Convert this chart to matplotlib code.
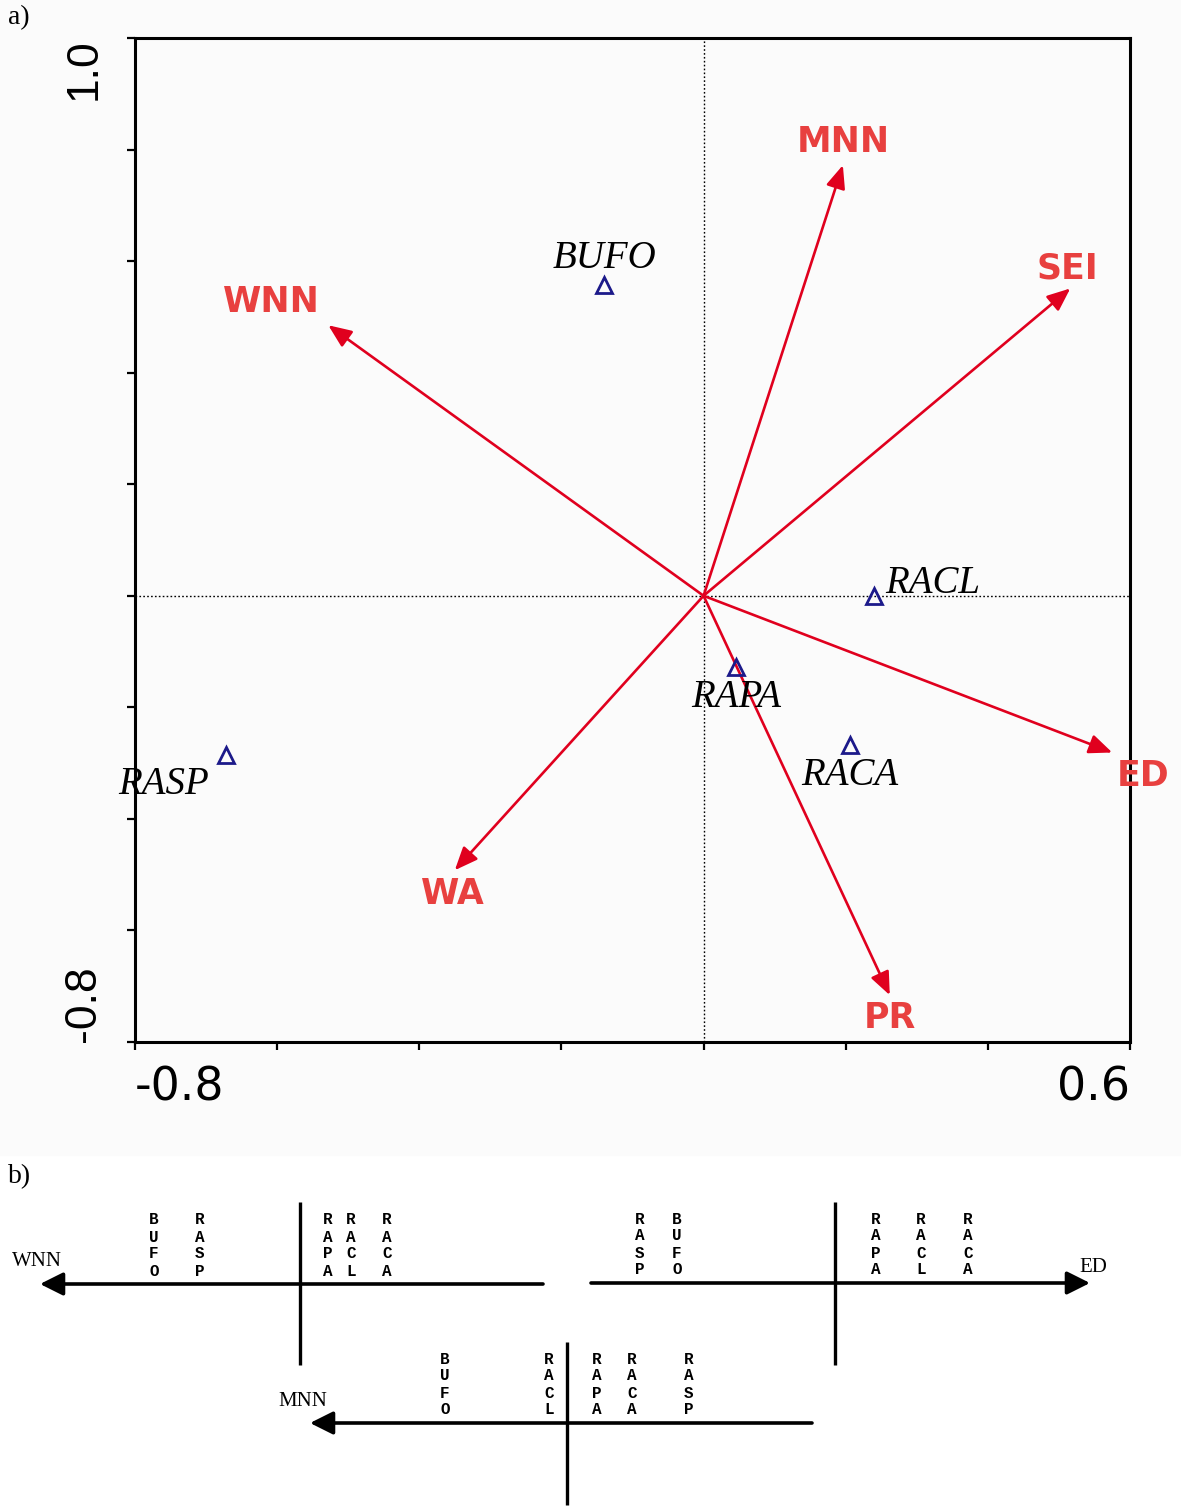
import matplotlib
matplotlib.use("Agg")
import matplotlib.pyplot as plt
from matplotlib.patches import Rectangle

# ---------------- data ----------------
# environmental variables (biplot arrows)
env_names = ["MNN", "SEI", "WNN", "ED", "PR", "WA"]
env_x = [0.196, 0.516, -0.528, 0.575, 0.262, -0.350]
env_y = [0.772, 0.551, 0.485, -0.281, -0.716, -0.492]

# species scores
species = ["BUFO", "RACL", "RAPA", "RACA", "RASP"]
sp_x = [-0.140, 0.240, 0.046, 0.206, -0.672]
sp_y = [0.557, 0.000, -0.128, -0.268, -0.285]

# axis ticks
x_ticks = [-0.8, -0.6, -0.4, -0.2, 0.0, 0.2, 0.4, 0.6]
y_ticks = [-0.8, -0.6, -0.4, -0.2, 0.0, 0.2, 0.4, 0.6, 0.8, 1.0]
x_ticklabels = ["-0.8", "", "", "", "", "", "", "0.6"]
y_ticklabels = ["-0.8", "", "", "", "", "", "", "", "", "1.0"]

# panel b: species order along three gradients, signed position from the
# crossing point (positive = toward the arrow head)
grad_names = ["WNN", "ED", "MNN"]
grad_species = [
    ["BUFO", "RASP", "RAPA", "RACL", "RACA"],
    ["RASP", "BUFO", "RAPA", "RACL", "RACA"],
    ["BUFO", "RACL", "RAPA", "RACA", "RASP"],
]
grad_scores = [
    [146, 100, -28, -51, -87],
    [-195, -158, 41, 86, 133],
    [122, 18, -30, -65, -122],
]

# ---------------- styling ----------------
ARROW_RED = "#e0001e"
TEXT_RED = "#e8403f"
NAVY = "#1c1a8a"

env_label_offsets = {  # points, from arrow tip
    "MNN": (0, 16.6), "SEI": (-2, 14.4), "WNN": (-41, 16.6),
    "ED": (22.3, -16.6), "PR": (0, -16.6), "WA": (-1.4, -17.3),
}
sp_label_offsets = {  # points, from marker
    "BUFO": (0, 19.4, "center"), "RACL": (8, 8.6, "left"),
    "RAPA": (0, -21.6, "center"), "RACA": (0, -21.6, "center"),
    "RASP": (-45, -21.6, "center"),
}

W, H = 1181, 1506
fig = plt.figure(figsize=(W / 100, H / 100), dpi=100)
fig.patch.set_facecolor("white")
fig.patches.append(Rectangle((0, 1 - 1155 / H), 1, 1155 / H,
                             transform=fig.transFigure, color="#fbfbfb",
                             zorder=-10))

# ---------------- panel a ----------------
ax = fig.add_axes([135 / W, 1 - 1042 / H, 995 / W, 1004 / H])
ax.set_facecolor("none")
ax.set_xlim(-0.8, 0.6)
ax.set_ylim(-0.8, 1.0)
for sp in ax.spines.values():
    sp.set_linewidth(2.2)
    sp.set_color("black")

ax.set_xticks(x_ticks)
ax.set_xticklabels(x_ticklabels, fontsize=33, family="DejaVu Sans")
ax.set_yticks(y_ticks)
ax.set_yticklabels(y_ticklabels, fontsize=32, family="Liberation Sans",
                   rotation=90)
ax.tick_params(axis="both", direction="out", length=6, width=1.6)
ax.tick_params(axis="x", pad=11)
ax.tick_params(axis="y", pad=16)
xl = ax.get_xticklabels()
xl[0].set_ha("left")
xl[-1].set_ha("right")
yl = ax.get_yticklabels()
yl[0].set_va("bottom")
yl[-1].set_va("top")

ax.axhline(0, color="black", lw=1.0, ls=(0, (1.2, 1.6)), zorder=1)
ax.axvline(0, color="black", lw=1.0, ls=(0, (1.2, 1.6)), zorder=1)

for name, ex, ey in zip(env_names, env_x, env_y):
    ax.annotate("", xy=(ex, ey), xytext=(0, 0),
                arrowprops=dict(arrowstyle="-|>,head_length=1.0,head_width=0.42",
                                mutation_scale=14, color=ARROW_RED, lw=1.9,
                                shrinkA=0, shrinkB=0), zorder=3)
    dx, dy = env_label_offsets[name]
    ax.annotate(name, xy=(ex, ey), xytext=(dx, dy), textcoords="offset points",
                ha="center", va="center", fontsize=25, fontweight="bold",
                family="DejaVu Sans", color=TEXT_RED, zorder=4)

ax.plot(sp_x, sp_y, ls="none", marker="^", ms=11, mfc="none", mec=NAVY,
        mew=2.0, zorder=5)
for name, sx, sy in zip(species, sp_x, sp_y):
    dx, dy, ha = sp_label_offsets[name]
    ax.annotate(name, xy=(sx, sy), xytext=(dx, dy), textcoords="offset points",
                ha=ha, va="center", fontsize=28, style="italic",
                family="Liberation Serif", color="black", zorder=6)

fig.text(8 / W, 1 - 18 / H, "a)", fontsize=20, family="Liberation Serif",
         ha="left", va="center")
fig.text(8 / W, 1 - 1177 / H, "b)", fontsize=20, family="Liberation Serif",
         ha="left", va="center")

# ---------------- panel b ----------------
axb = fig.add_axes([0, 0, 1, 1])
axb.set_xlim(0, W)
axb.set_ylim(H, 0)
axb.axis("off")
axb.set_facecolor("none")

# geometry of each gradient diagram: crossing x, y, line ends, arrow side,
# vertical extent and axis label position
layout = [
    dict(cx=300, cy=1284, x0=40, x1=543, side=-1, v0=1202, v1=1365, lx=37, ly=1262),
    dict(cx=835, cy=1283, x0=591, x1=1090, side=1, v0=1202, v1=1365, lx=1093, ly=1268),
    dict(cx=567, cy=1423, x0=310, x1=812, side=-1, v0=1342, v1=1505, lx=303, ly=1401),
]

for name, sps, scores, g in zip(grad_names, grad_species, grad_scores, layout):
    tip = g["x0"] if g["side"] < 0 else g["x1"]
    tail = g["x1"] if g["side"] < 0 else g["x0"]
    axb.annotate("", xy=(tip, g["cy"]), xytext=(tail, g["cy"]),
                 arrowprops=dict(arrowstyle="-|>,head_length=1.0,head_width=0.5",
                                 mutation_scale=14, color="black", lw=2.6,
                                 shrinkA=0, shrinkB=0))
    axb.plot([g["cx"], g["cx"]], [g["v0"], g["v1"]], color="black", lw=2.4,
             solid_capstyle="butt")
    axb.text(g["lx"], g["ly"], name, fontsize=15, family="Liberation Serif",
             ha="center", va="center")
    for sp_name, s in zip(sps, scores):
        x = g["cx"] + g["side"] * s
        for k, ch in enumerate(sp_name):
            y = g["cy"] - 13 - (len(sp_name) - 1 - k) * 17
            axb.text(x, y, ch, fontsize=11.5, family="Liberation Mono",
                     fontweight="bold", ha="center", va="center")

fig.savefig("out.png", dpi=100, facecolor=fig.get_facecolor())
